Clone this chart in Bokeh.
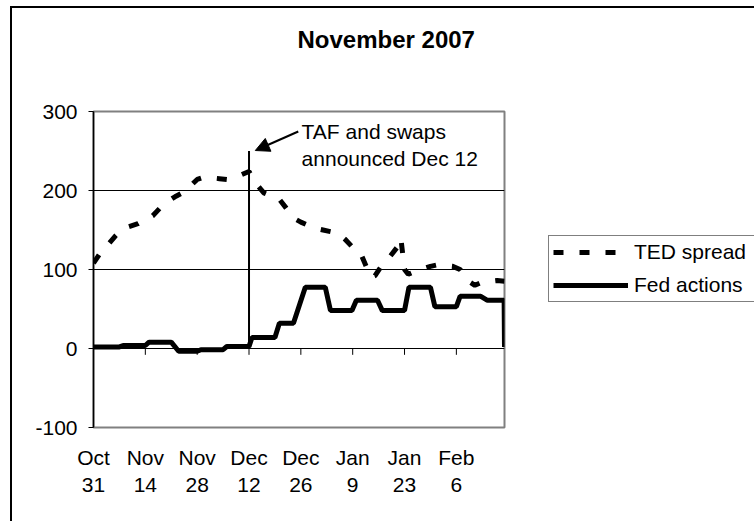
from bokeh.plotting import figure
from bokeh.models import FixedTicker, Label, Arrow, NormalHead, Legend, LegendItem, Range1d, Title
from bokeh.embed import file_html
from bokeh.resources import INLINE

# ---- data (days since 2007-10-31) ----
tick_days = [0, 14, 28, 42, 56, 70, 84, 98]
tick_labels = ["Oct\n31", "Nov\n14", "Nov\n28", "Dec\n12", "Dec\n26", "Jan\n9", "Jan\n23", "Feb\n6"]
y_ticks = [-100, 0, 100, 200, 300]
y_tick_labels = ["-100", "0", "100", "200", "300"]

ted_days = [0, 2, 4, 6, 8, 10, 12, 14, 16, 18, 20, 22, 24, 26, 28, 30, 32, 34, 36, 38, 40, 42,
            44, 46, 48, 50, 52, 54, 56, 58, 60, 62, 64, 66, 68, 70, 72, 74, 75, 76, 78, 80, 82, 83,
            84, 85, 87, 89, 91, 93, 95, 97, 99, 101, 103, 105, 107, 109, 111]
ted_vals = [108, 122, 132, 143, 152, 155, 158, 163, 168, 178, 186, 192, 197, 205, 214, 217, 216, 215, 214, 216, 220, 224,
            208, 197, 193, 190, 178, 165, 160, 156, 152, 150, 148, 146, 138, 128, 122, 100, 90, 92, 106, 116, 128, 140,
            100, 94, 98, 101, 104, 106, 105, 104, 100, 86, 80, 84, 85, 86, 85]

fed_days = [0, 7, 8, 14, 15, 21, 23, 28, 29, 35, 36, 42, 42.8, 49, 50.2, 54, 57.2, 62.6, 64, 69.8, 71,
            76.7, 78, 84, 85.2, 91, 92.2, 98, 99, 104.6, 106.4, 110.9, 111]
fed_vals = [2, 2, 3.8, 3.8, 8, 8, -3.5, -3.5, -1.5, -1.5, 2.5, 2.5, 14, 14, 32, 32, 77.6, 77.6, 48, 48, 61,
            61, 48, 48, 77.6, 77.6, 53, 53, 66, 66, 61, 61, 2]

event_day = 42
event_top = 250

FONT = "Liberation Sans"

p = figure(frame_width=411, frame_height=316, x_range=Range1d(0, 111), y_range=Range1d(-100, 300),
           output_backend="svg", toolbar_location=None,
           min_border_left=81, min_border_right=10, min_border_top=103, min_border_bottom=96)
p.styles = {"margin-left": "12px", "margin-top": "8px",
            "box-shadow": "-2px -2px 0px 0px black"}
p.background_fill_color = "white"
p.border_fill_color = "white"
p.outline_line_color = "#808080"
p.outline_line_width = 2

# spacer between the frame and the title
p.add_layout(Title(text=" ", text_font_size="2px", standoff=55), "above")

# title
p.title.text = "November 2007"
p.title.align = "left"
p.title.offset = 204
p.title.standoff = 0
p.title.text_font = FONT
p.title.text_font_size = "24px"
p.title.text_font_style = "bold"
p.title.text_color = "black"

# y axis
p.yaxis.ticker = FixedTicker(ticks=y_ticks)
p.yaxis.major_label_overrides = {t: l for t, l in zip(y_ticks, y_tick_labels)}
p.yaxis.axis_line_color = "black"
p.yaxis.axis_line_width = 1.5
p.yaxis.major_tick_line_color = "black"
p.yaxis.major_tick_out = 5
p.yaxis.major_tick_in = 0
p.yaxis.minor_tick_line_color = None
p.yaxis.major_label_standoff = 11
p.yaxis.major_label_text_font = FONT
p.yaxis.major_label_text_font_size = "21px"
p.yaxis.major_label_text_color = "black"

# x axis (labels at bottom)
p.xaxis.ticker = FixedTicker(ticks=tick_days)
p.xaxis.major_label_overrides = {d: l for d, l in zip(tick_days, tick_labels)}
p.xaxis.axis_line_color = None
p.xaxis.major_tick_line_color = None
p.xaxis.minor_tick_line_color = None
p.xaxis.major_label_standoff = 12
p.xaxis.major_label_text_font = FONT
p.xaxis.major_label_text_font_size = "21px"
p.xaxis.major_label_text_color = "black"

# grid
p.xgrid.grid_line_color = None
p.ygrid.ticker = FixedTicker(ticks=[0, 100, 200])
p.ygrid.grid_line_color = "black"
p.ygrid.grid_line_width = 1

# tick marks on the zero line
p.segment(x0=tick_days[1:], y0=[0] * (len(tick_days) - 1), x1=tick_days[1:], y1=[-8] * (len(tick_days) - 1),
          line_color="black", line_width=1)

ted = p.line(ted_days, ted_vals, line_color="black", line_width=5, line_dash="10 16")
fed = p.line(fed_days, fed_vals, line_color="black", line_width=5)

# event line and annotation
p.segment(x0=[event_day], y0=[0], x1=[event_day], y1=[event_top], line_color="black", line_width=2)
p.add_layout(Arrow(end=NormalHead(size=14, fill_color="black", line_color="black"),
                   x_start=55.3, y_start=274.7, x_end=43.7, y_end=250.6,
                   line_color="black", line_width=2))
p.add_layout(Label(x=56.2, y=274.7, text="TAF and swaps", text_font=FONT, text_font_size="21px",
                   text_baseline="middle", text_align="left", text_color="black"))
p.add_layout(Label(x=56.2, y=240.5, text="announced Dec 12", text_font=FONT, text_font_size="21px",
                   text_baseline="middle", text_align="left", text_color="black"))

legend = Legend(items=[LegendItem(label="TED spread", renderers=[ted]),
                       LegendItem(label="Fed actions", renderers=[fed])],
                location=(44, 125), margin=0, padding=4, spacing=9,
                glyph_width=75, glyph_height=20, label_height=20, label_standoff=6, label_width=117,
                label_text_font=FONT, label_text_font_size="21px", label_text_color="black",
                label_text_baseline="middle",
                border_line_color="black", border_line_width=1, background_fill_color="white",
                background_fill_alpha=1)
p.add_layout(legend, "right")

open("out.html", "w").write(file_html(p, INLINE))
